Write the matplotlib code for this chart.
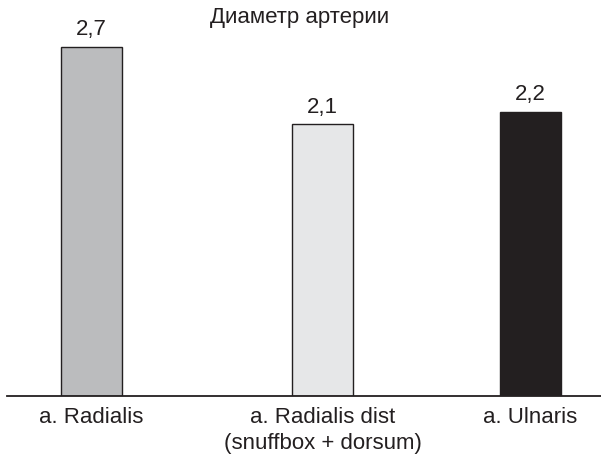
import matplotlib.pyplot as plt

plt.rcParams['font.family'] = ['Liberation Sans', 'DejaVu Sans']

categories = ['a. Radialis', 'a. Radialis dist\n(snuffbox + dorsum)', 'a. Ulnaris']
diameters = [2.7, 2.1, 2.2]
value_labels = ['2,7', '2,1', '2,2']
title = 'Диаметр артерии'

# layout (pixel-like x units)
xpos = [91.5, 322.5, 530]
bar_colors = ['#bbbcbe', '#e6e7e8', '#231f20']

fig = plt.figure(figsize=(6.01, 4.61), dpi=100)
ax = fig.add_axes([7 / 601, 65 / 461, 594 / 601, 396 / 461])

ax.bar(xpos, diameters, width=61, color=bar_colors, edgecolor='#231f20', linewidth=1.0)
for x, v, lab in zip(xpos, diameters, value_labels):
    ax.text(x, v + 0.05, lab, ha='center', va='bottom', fontsize=16, color='#231f20')

ax.set_xlim(7, 601)
ax.set_ylim(0, 396 / 129.3)
ax.set_xticks(xpos)
ax.set_xticklabels(categories, fontsize=16, color='#231f20', linespacing=1.3)
ax.tick_params(axis='x', length=0, pad=8)
ax.set_yticks([])
for s in ['top', 'right', 'left']:
    ax.spines[s].set_visible(False)
ax.spines['bottom'].set_color('#231f20')
ax.spines['bottom'].set_linewidth(1.3)

fig.text(300 / 601, 1 - 18 / 461, title, ha='center', va='center', fontsize=16, color='#231f20')

fig.savefig('out.png', dpi=100)
